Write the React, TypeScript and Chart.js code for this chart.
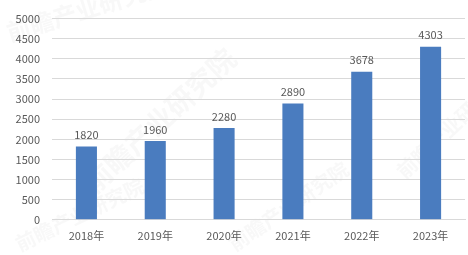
import React, { useEffect, useRef } from "react";
import { Chart, registerables } from "chart.js";

Chart.register(...registerables);

const years = ["2018年", "2019年", "2020年", "2021年", "2022年", "2023年"];
const values = [1820, 1960, 2280, 2890, 3678, 4303];
const yMax = 5000;
const yStep = 500;

const FONT = '"Noto Sans CJK SC", "Liberation Sans", sans-serif';
const TEXT = "#595959";
const BAR = "#4a7cbf";

// Numbers printed above each bar
const valueLabels = {
  id: "valueLabels",
  afterDatasetsDraw(chart: any) {
    const { ctx } = chart;
    const meta = chart.getDatasetMeta(0);
    ctx.save();
    ctx.font = `11px ${FONT}`;
    ctx.fillStyle = TEXT;
    ctx.textAlign = "center";
    ctx.textBaseline = "bottom";
    meta.data.forEach((bar: any, i: number) => {
      ctx.fillText(String(values[i]), bar.x, bar.y - 6);
    });
    ctx.restore();
  },
};

// Faint diagonal brand marks across the background
const watermark = {
  id: "watermark",
  beforeDraw(chart: any) {
    const { ctx } = chart;
    const marks = [
      { x: 10, y: 42, a: -0.3, s: 24 },
      { x: 95, y: 195, a: -0.75, s: 28 },
      { x: 20, y: 252, a: -0.45, s: 20 },
      { x: 235, y: 252, a: -0.6, s: 20 },
      { x: 405, y: 180, a: -0.75, s: 20 },
    ];
    ctx.save();
    ctx.fillStyle = "rgba(160,160,160,0.07)";
    ctx.textBaseline = "alphabetic";
    marks.forEach((m) => {
      ctx.save();
      ctx.translate(m.x, m.y);
      ctx.rotate(m.a);
      ctx.font = `bold ${m.s}px ${FONT}`;
      ctx.fillText("前瞻产业研究院", 0, 0);
      ctx.restore();
    });
    ctx.restore();
  },
};

export default function App() {
  const ref = useRef<HTMLCanvasElement>(null);

  useEffect(() => {
    if (!ref.current) return;
    const chart = new Chart(ref.current, {
      type: "bar",
      data: {
        labels: years,
        datasets: [
          {
            data: values,
            backgroundColor: BAR,
            categoryPercentage: 0.6,
            barPercentage: 0.51,
          },
        ],
      },
      options: {
        animation: false,
        responsive: false,
        maintainAspectRatio: false,
        layout: { padding: { top: 16, right: 3, bottom: 12, left: 0 } },
        plugins: {
          legend: { display: false },
          tooltip: { enabled: false },
        },
        scales: {
          x: {
            grid: { display: false },
            border: { color: "#d9d9d9" },
            ticks: { color: TEXT, font: { size: 11, family: FONT }, padding: 1 },
          },
          y: {
            min: 0,
            max: yMax,
            grid: { color: "#d9d9d9", drawTicks: false },
            border: { display: false },
            ticks: {
              stepSize: yStep,
              color: TEXT,
              font: { size: 11, family: FONT },
              padding: 12,
              callback: (v: any) => String(v),
            },
            afterFit(scale: any) {
              scale.width = 52;
            },
          },
        },
      },
      plugins: [watermark, valueLabels],
    });
    return () => chart.destroy();
  }, []);

  return (
    <div style={{ position: "absolute", left: 0, top: 0, width: 468, height: 255, background: "#fff" }}>
      <canvas ref={ref} width={468} height={255} style={{ display: "block" }} />
    </div>
  );
}
